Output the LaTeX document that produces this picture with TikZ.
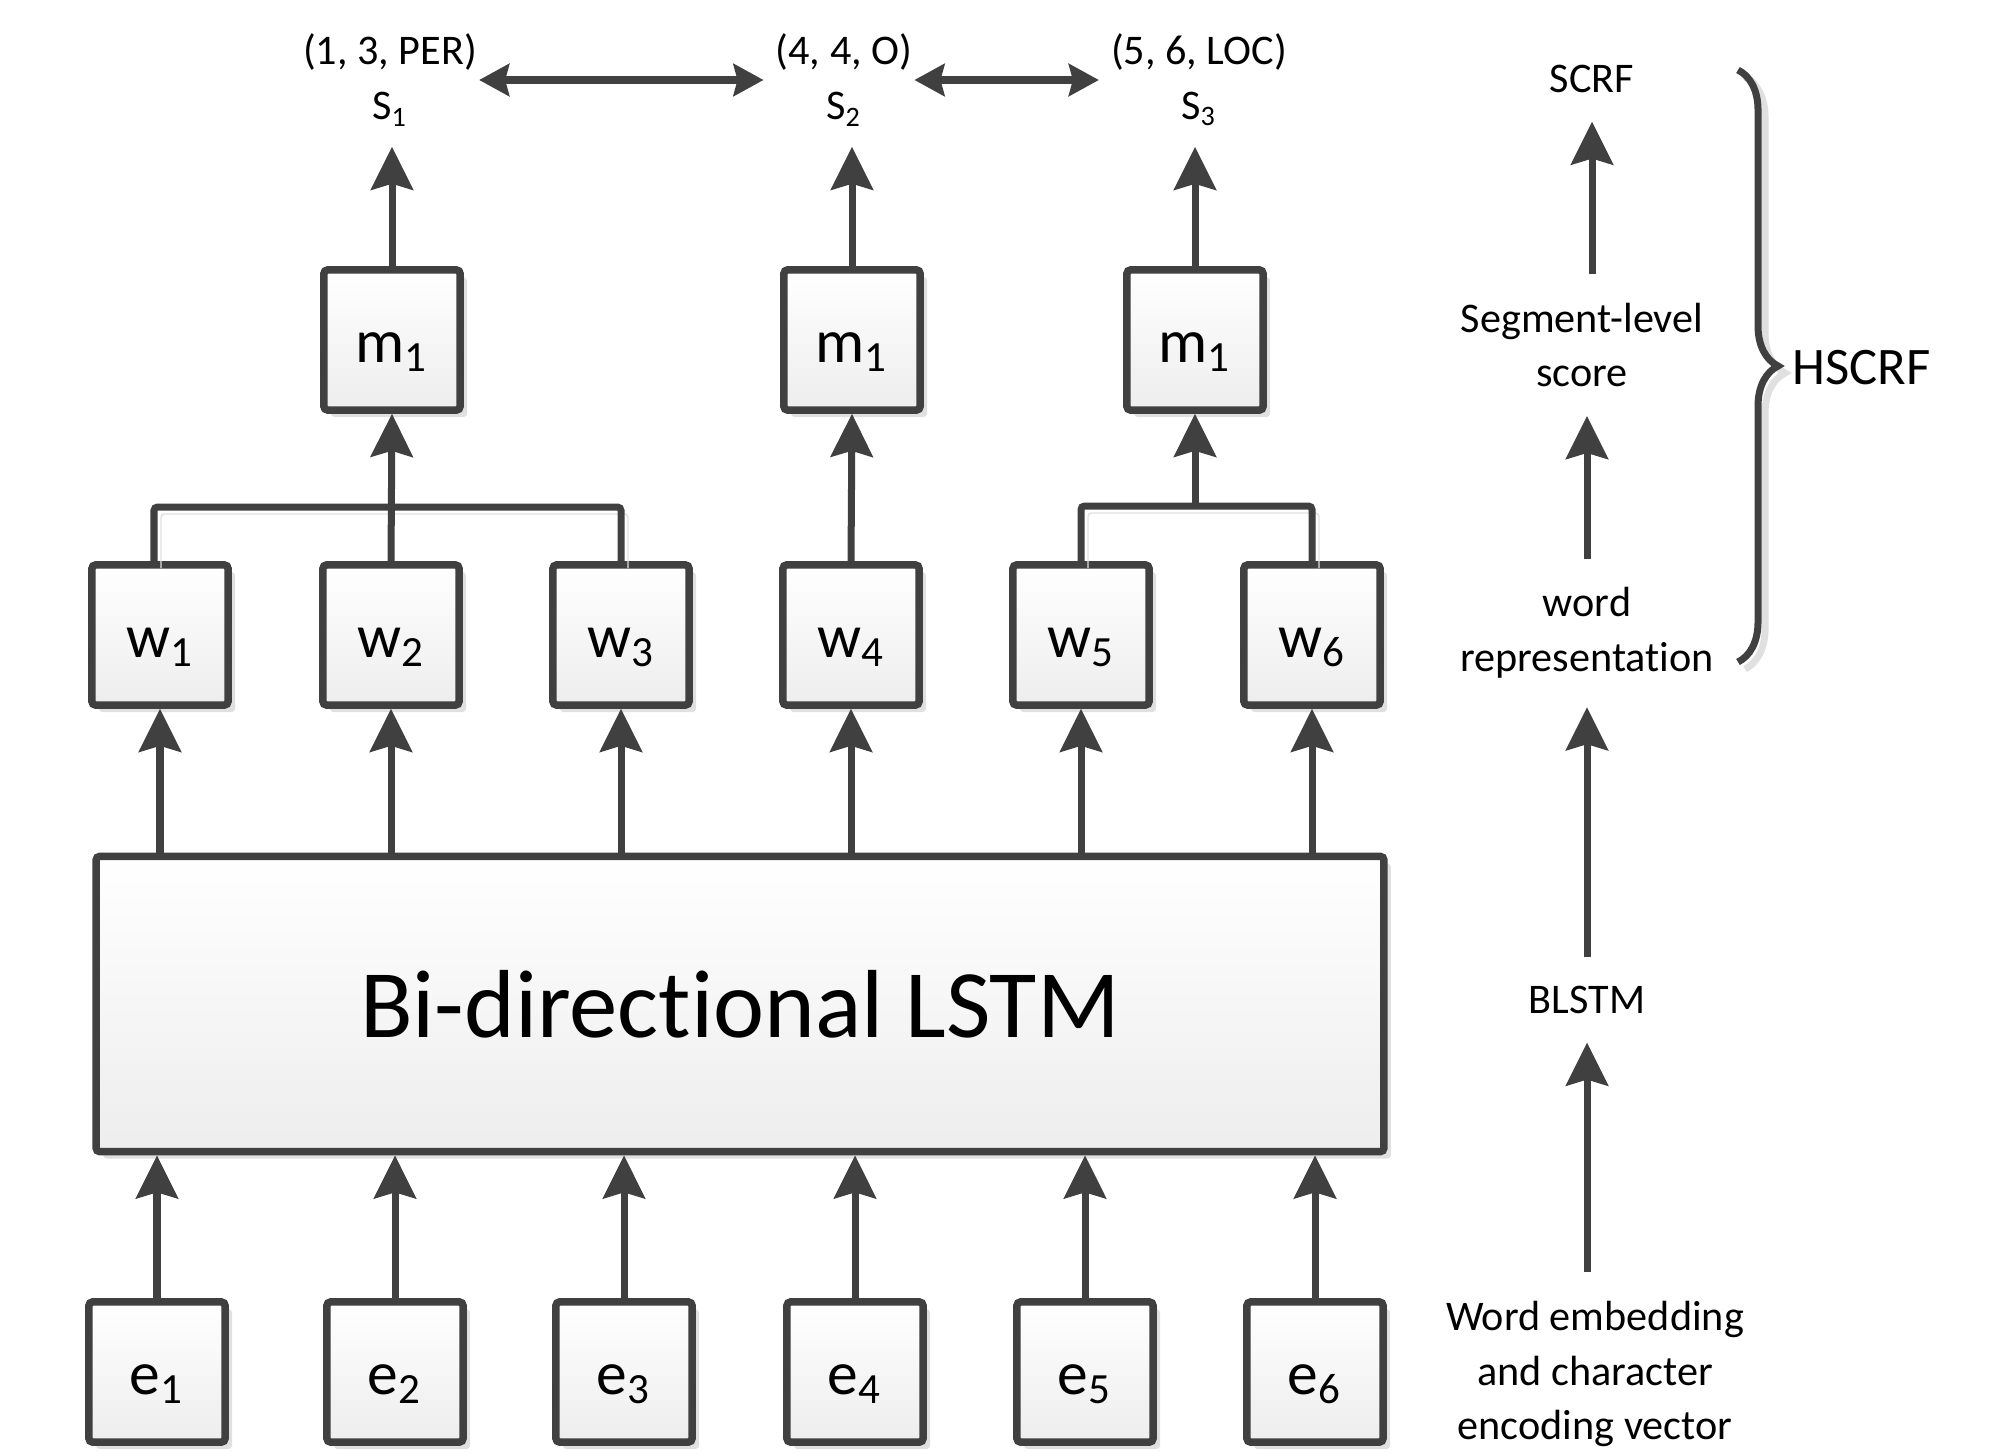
\documentclass[tikz,border=0pt]{standalone}
\usepackage{fontspec}
\setmainfont{Carlito}[Ligatures=NoCommon]
\usepackage{tikz}
\usetikzlibrary{arrows.meta, positioning, shadows, decorations.pathreplacing}
\definecolor{linegray}{RGB}{64,64,64}

\begin{document}
\begin{tikzpicture}
    [x=0.01cm, y=-0.01cm,
     box/.style={draw=linegray, line width=0.075cm, rounded corners=1pt,
                 top color=white, bottom color=black!7,
                 drop shadow={shadow xshift=0.07cm, shadow yshift=-0.07cm, fill=black!12, opacity=1},
                 minimum width=1.36cm, minimum height=1.40cm, inner sep=0pt,
                 text height=12.6pt, text depth=0pt,
                 font=\fontsize{17.5}{20}\selectfont},
     tup/.style={align=center, inner xsep=1pt, inner ysep=0.2cm, font=\fontsize{12}{15.6}\selectfont},
     lbl/.style={align=center, inner xsep=0pt, inner ysep=0.28cm, font=\fontsize{12}{15.6}\selectfont},
     arr/.style={draw=linegray, line width=0.07cm, -{Stealth[length=0.43cm, width=0.42cm, inset=0.06cm]}},
     link/.style={draw=linegray, line width=0.07cm, rounded corners=1pt,
                  preaction={draw=black!12, transform canvas={shift={(0.07cm,-0.07cm)}}}},
     pair/.style={draw=linegray, line width=0.08cm, shorten <=-0.02cm, shorten >=0.08cm,
                  {Stealth[length=0.3cm, width=0.32cm, inset=0.04cm]}-{Stealth[length=0.3cm, width=0.32cm, inset=0.04cm]}}]

    \useasboundingbox (0,0) rectangle (1997,1451);

    % segments on top
    \node[tup] (t1) at (390,80) {(1, 3, PER)\\S\textsubscript{1}};
    \node[tup] (t2) at (844,80) {(4, 4, O)\\S\textsubscript{2}};
    \node[tup] (t3) at (1199,80) {(5, 6, LOC)\\S\textsubscript{3}};
    \draw[pair] (t1.east) -- (t2.west);
    \draw[pair] (t2.east) -- (t3.west);

    % segment scores
    \node[box] (m1) at (392,340) {m\textsubscript{1}};
    \node[box] (m2) at (852,340) {m\textsubscript{1}};
    \node[box] (m3) at (1195,340) {m\textsubscript{1}};

    % word representations
    \node[box] (w1) at (160,635) {w\textsubscript{1}};
    \node[box] (w2) at (391,635) {w\textsubscript{2}};
    \node[box] (w3) at (621,635) {w\textsubscript{3}};
    \node[box] (w4) at (851,635) {w\textsubscript{4}};
    \node[box] (w5) at (1081,635) {w\textsubscript{5}};
    \node[box] (w6) at (1312,635) {w\textsubscript{6}};

    % BLSTM layer
    \node[box, minimum width=12.87cm, minimum height=2.95cm, text height=19.3pt,
          font=\fontsize{27.5}{32}\selectfont] (lstm) at (740,1004) {Bi-directional LSTM};

    % embeddings
    \node[box] (e1) at (157,1372) {e\textsubscript{1}};
    \node[box] (e2) at (395,1372) {e\textsubscript{2}};
    \node[box] (e3) at (624,1372) {e\textsubscript{3}};
    \node[box] (e4) at (855,1372) {e\textsubscript{4}};
    \node[box] (e5) at (1085,1372) {e\textsubscript{5}};
    \node[box] (e6) at (1315,1372) {e\textsubscript{6}};

    \draw[arr] (e1.north) -- (e1.north |- lstm.south);
    \draw[arr] (e2.north) -- (e2.north |- lstm.south);
    \draw[arr] (e3.north) -- (e3.north |- lstm.south);
    \draw[arr] (e4.north) -- (e4.north |- lstm.south);
    \draw[arr] (e5.north) -- (e5.north |- lstm.south);
    \draw[arr] (e6.north) -- (e6.north |- lstm.south);

    \draw[arr] (w1.south |- lstm.north) -- (w1.south);
    \draw[arr] (w2.south |- lstm.north) -- (w2.south);
    \draw[arr] (w3.south |- lstm.north) -- (w3.south);
    \draw[arr] (w4.south |- lstm.north) -- (w4.south);
    \draw[arr] (w5.south |- lstm.north) -- (w5.south);
    \draw[arr] (w6.south |- lstm.north) -- (w6.south);

    % grouping words into segments
    \coordinate (j1) at (391,507);
    \coordinate (j3) at (1195,506);
    \draw[link] ([xshift=-0.06cm]w1.north) |- (j1) -| (w3.north);
    \draw[link] (w5.north) |- (j3) -| (w6.north);
    \draw[arr] (w2.north) -- (m1.south);
    \draw[arr] (w4.north) -- (m2.south);
    \draw[arr] (j3) -- (m3.south);

    \draw[arr] (m1.north) -- (m1.north |- t1.south);
    \draw[arr] (m2.north) -- (m2.north |- t2.south);
    \draw[arr] (m3.north) -- (m3.north |- t3.south);

    % legend on the right
    \node[lbl] (r1) at (1592,79) {SCRF};
    \node[lbl] (r2) at (1582,345) {Segment-level\\score};
    \node[lbl] (r3) at (1587,633) {word\\representation};
    \node[lbl] (r4) at (1587,1000) {BLSTM};
    \node[lbl] (r5) at (1595,1374) {Word embedding\\and character\\encoding vector};

    \draw[arr] (r2.north -| r1.south) -- (r1.south);
    \draw[arr] (r3.north) -- (r3.north |- r2.south);
    \draw[arr] (r4.north) -- (r4.north |- r3.south);
    \draw[arr] (r5.north -| r4.south) -- (r4.south);

    \coordinate (bt) at (1738,70);
    \coordinate (bb) at (1738,662);
    \draw[black!12, line width=0.07cm, transform canvas={shift={(0.07cm,-0.07cm)}},
          decorate, decoration={brace, amplitude=0.4cm}] (bt) -- (bb);
    \draw[linegray, line width=0.07cm, decorate, decoration={brace, amplitude=0.4cm}] (bt) -- (bb);
    \node[anchor=west, inner sep=0pt, font=\fontsize{15}{18}\selectfont] (hs) at (1792,368) {HSCRF};
\end{tikzpicture}
\end{document}
